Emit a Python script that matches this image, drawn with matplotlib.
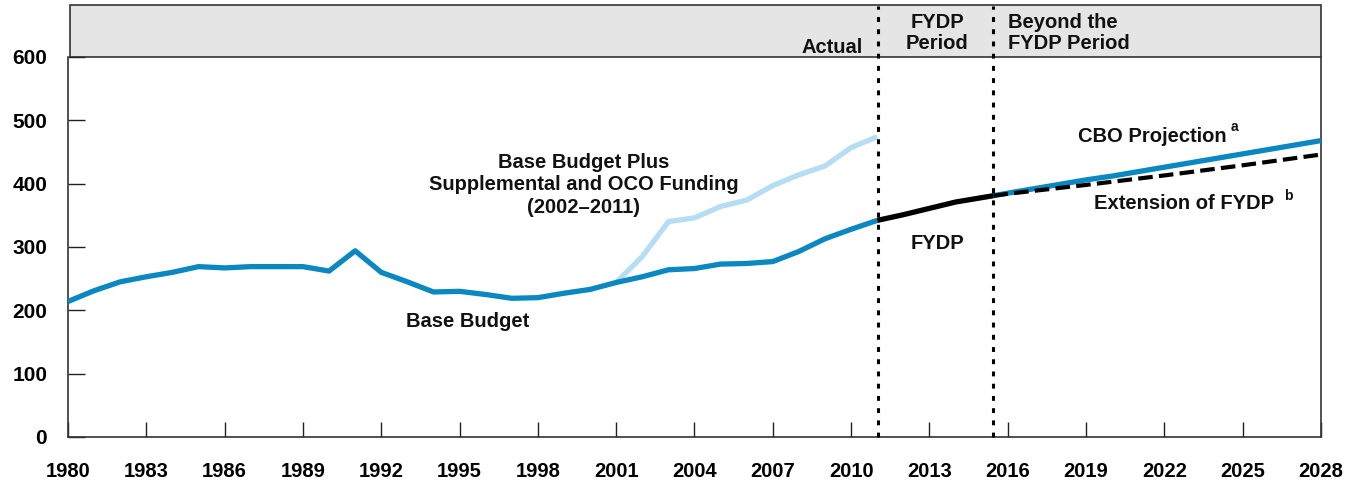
import matplotlib
matplotlib.use('Agg')
import matplotlib.pyplot as plt
from matplotlib.patches import Rectangle

plt.rcParams['font.family'] = ['Liberation Sans', 'DejaVu Sans']
plt.rcParams['font.weight'] = 'bold'

# Actual base budget (billions)
base_years = list(range(1980, 2012))
base_vals = [214, 231, 245, 253, 260, 269, 267, 269, 269, 269, 262, 294, 260, 245,
             229, 230, 225, 219, 220, 227, 233, 244, 253, 264, 266, 273, 274, 277,
             293, 313, 328, 342]

# Base budget plus supplemental and OCO funding
supp_years = list(range(2001, 2012))
supp_vals = [244, 285, 340, 346, 364, 374, 397, 414, 428, 457, 474]

# FYDP period
fydp_years = [2011, 2012, 2013, 2014, 2015.45]
fydp_vals = [342, 351, 361, 371, 381]

# CBO projection beyond the FYDP
cbo_years = [2015.45] + list(range(2016, 2029))
cbo_vals = [381, 385, 392, 399, 406, 412, 419, 426, 433, 440, 447, 454, 461, 468]

# Extension of FYDP
ext_years = [2015.45, 2016, 2019, 2022, 2025, 2028]
ext_vals = [381, 384, 398, 413, 429, 446]

period_bounds = [2011.04, 2015.45]

blue = '#0b87c1'
light_blue = '#b5ddf3'

fig = plt.figure(figsize=(13.57, 4.84), dpi=100)
ax = fig.add_axes([68 / 1357, 47 / 484, 1253 / 1357, 380 / 484])

ax.plot(supp_years, supp_vals, color=light_blue, lw=3.8, solid_capstyle='butt', zorder=2)
ax.plot(base_years, base_vals, color=blue, lw=3.8, solid_capstyle='butt', zorder=3)
ax.plot(cbo_years, cbo_vals, color=blue, lw=3.8, solid_capstyle='butt', zorder=3)
ax.plot(ext_years, ext_vals, color='black', lw=3, dashes=(3.5, 1.5), zorder=4)
ax.plot(fydp_years, fydp_vals, color='black', lw=3.8, solid_capstyle='butt', zorder=4)

ax.set_xlim(1980, 2028)
ax.set_ylim(0, 600)
ax.set_xticks(range(1980, 2029, 3))
ax.set_yticks(range(0, 601, 100))
ax.tick_params(axis='x', direction='in', length=11, width=1, pad=18, labelsize=14.5, colors='#222222')
ax.tick_params(axis='y', direction='in', length=12, width=1, pad=15, labelsize=15, colors='#222222')
for lab in ax.get_xticklabels() + ax.get_yticklabels():
    lab.set_fontweight('bold')
    lab.set_color('black')

for side in ['left', 'bottom', 'right']:
    ax.spines[side].set_color('#333333')
    ax.spines[side].set_linewidth(1.2)
ax.spines['top'].set_visible(False)

# header band
hdr_top = 1 + 52 / 380
ax.add_patch(Rectangle((0.0015, 1), 0.9985, hdr_top - 1, transform=ax.transAxes,
                       facecolor='#e5e5e5', edgecolor='#333333', lw=1.2, clip_on=False, zorder=1))

trans = ax.get_xaxis_transform()
for xb in period_bounds:
    ax.plot([xb, xb], [0, hdr_top - 0.003], transform=trans, color='black', lw=2.2,
            dashes=(1.6, 2.4), clip_on=False, zorder=5)

tk = dict(fontsize=14.5, fontweight='bold', color='#111111')
ax.text(2010.45, 615, 'Actual', ha='right', va='center', clip_on=False, **tk)
ax.text(2013.3, 638, 'FYDP\nPeriod', ha='center', va='center', linespacing=1.15,
        clip_on=False, **tk)
ax.text(2016.0, 638, 'Beyond the\nFYDP Period', ha='left', va='center', linespacing=1.15,
        clip_on=False, **tk)

ax.text(1999.75, 398, 'Base Budget Plus\nSupplemental and OCO Funding\n(2002\u20132011)',
        ha='center', va='center', linespacing=1.25, **tk)
ax.text(1995.3, 183, 'Base Budget', ha='center', va='center', **tk)
ax.text(2013.3, 306, 'FYDP', ha='center', va='center', **tk)
ax.text(2024.4, 475, 'CBO Projection', ha='right', va='center', **tk)
ax.text(2024.55, 489, 'a', ha='left', va='center', fontsize=10, fontweight='bold', color='#111111')
ax.text(2026.2, 369, 'Extension of FYDP', ha='right', va='center', **tk)
ax.text(2026.6, 381, 'b', ha='left', va='center', fontsize=10, fontweight='bold', color='#111111')

fig.savefig('out.png', dpi=100)
